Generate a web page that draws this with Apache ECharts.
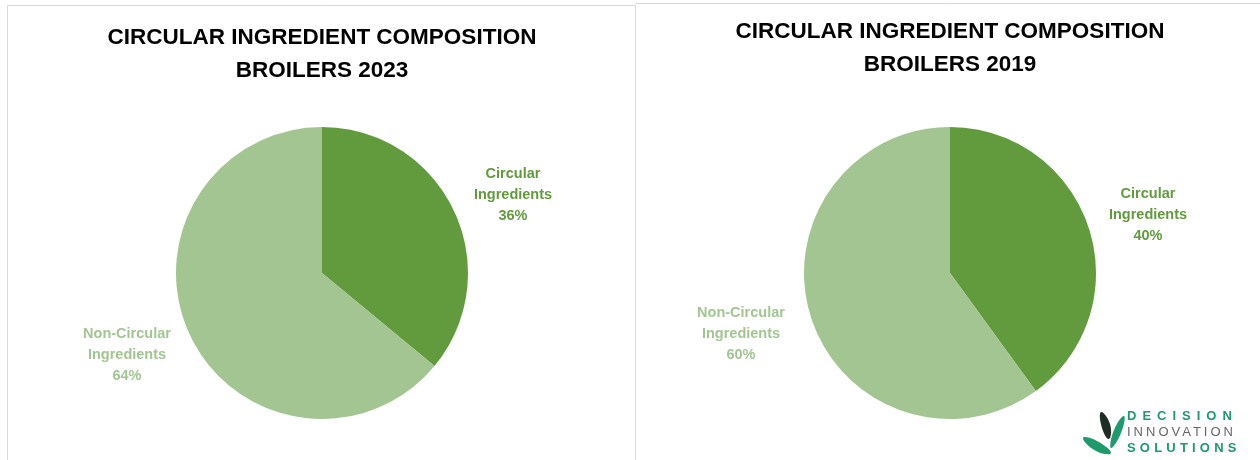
<!DOCTYPE html>
<html>
<head>
<meta charset="utf-8">
<script src="https://cdn.jsdelivr.net/npm/echarts@6/dist/echarts.min.js"></script>
<style>
  html, body { margin: 0; padding: 0; background: #fff; }
  #chart { width: 1260px; height: 460px; }
  .logo { position: absolute; left: 1127px; top: 408px; font-family: 'Liberation Sans', Arial, sans-serif; font-size: 13px; line-height: 15.8px; white-space: nowrap; }
  .logo .d { color: #1e9a6c; font-weight: bold; letter-spacing: 6px; }
  .logo .i { color: #666; letter-spacing: 3px; }
  .logo .s { color: #1e9a6c; font-weight: bold; letter-spacing: 4.2px; }
</style>
</head>
<body>
<div id="chart"></div>
<div class="logo"><div class="d">DECISION</div><div class="i">INNOVATION</div><div class="s">SOLUTIONS</div></div>
<script>
// 数据
var categories = ['Circular\nIngredients', 'Non-Circular\nIngredients'];
var values2023 = [36, 64];
var values2019 = [40, 60];
var titles = ['CIRCULAR INGREDIENT COMPOSITION\nBROILERS 2023', 'CIRCULAR INGREDIENT COMPOSITION\nBROILERS 2019'];
var colors = ['#629b3e', '#a3c592'];

var myChart = echarts.init(document.getElementById('chart'));

function pieData(vals) {
    return vals.map(function (v, i) {
        return {
            name: categories[i],
            value: v,
            itemStyle: { color: colors[i] },
            label: { color: colors[i] }
        };
    });
}

// 标签位置
var labelPos2023 = [[513, 195], [127, 355]];
var labelPos2019 = [[1148, 215], [741, 334]];

function pieSeries(vals, center, pos) {
    return {
        type: 'pie',
        center: center,
        radius: 146,
        startAngle: 90,
        clockwise: true,
        silent: true,
        animation: false,
        data: pieData(vals),
        itemStyle: { borderWidth: 0 },
        label: {
            show: true,
            position: 'outside',
            formatter: function (p) { return p.name + '\n' + p.value + '%'; },
            fontFamily: 'Liberation Sans, Arial, sans-serif',
            fontWeight: 'bold',
            fontSize: 14.5,
            lineHeight: 21,
            align: 'center'
        },
        labelLine: { show: false },
        labelLayout: function (params) {
            var p = pos[params.dataIndex];
            return { x: p[0], y: p[1], align: 'center', verticalAlign: 'middle' };
        }
    };
}

var option = {
    backgroundColor: '#fff',
    title: [0, 1].map(function (i) {
        return {
            text: titles[i],
            left: i === 0 ? 317 : 945,
            top: i === 0 ? 16 : 10,
            textAlign: 'center',
            textStyle: {
                fontFamily: 'Liberation Sans, Arial, sans-serif',
                fontWeight: 'bold',
                fontSize: 22.5,
                lineHeight: 33,
                color: '#000'
            }
        };
    }),
    graphic: [
        // 面板边框
        { type: 'polyline', shape: { points: [[7.5, 460], [7.5, 5.5], [635.5, 5.5], [635.5, 460]] }, style: { stroke: '#d9d9d9', fill: null, lineWidth: 1 } },
        { type: 'line', shape: { x1: 635.5, y1: 3.5, x2: 1260, y2: 3.5 }, style: { stroke: '#d9d9d9', lineWidth: 1 } },
        // logo 叶子
        { type: 'polygon', shape: { points: [[1101, 412], [1102, 428], [1109, 439], [1110, 424]], smooth: 0.5 }, style: { fill: '#1f2d25' } },
        { type: 'polygon', shape: { points: [[1083, 438], [1097, 441], [1111, 453], [1096, 451]], smooth: 0.5 }, style: { fill: '#1e9a6c' } },
        { type: 'polygon', shape: { points: [[1124, 416], [1121, 433], [1111, 448], [1114, 430]], smooth: 0.5 }, style: { fill: '#1e9a6c' } }
    ],
    series: [
        pieSeries(values2023, [322, 273], labelPos2023),
        pieSeries(values2019, [950, 273], labelPos2019)
    ]
};
myChart.setOption(option);
</script>
</body>
</html>
